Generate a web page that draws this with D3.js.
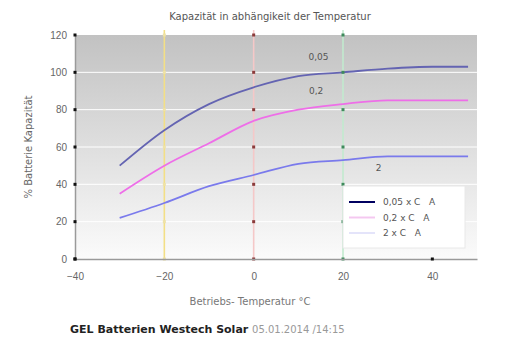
<!DOCTYPE html>
<html>
<head>
<meta charset="utf-8">
<script src="https://cdn.jsdelivr.net/npm/d3@7"></script>
<style>
  body { margin: 0; background: #fff; }
  svg { font-family: "DejaVu Sans", sans-serif; }
</style>
</head>
<body>
<script>
// DATA
let temps = [-30, -20, -10, 0, 10, 20, 30, 40, 48];
let s005 = [50, 69, 83, 92, 98, 100, 102, 103, 103];
let s02 = [35, 50, 62, 74, 80, 83, 85, 85, 85];
let s2 = [22, 30, 39, 45, 51, 53, 55, 55, 55];
let seriesNames = ["0,05 x C   A", "0,2 x C   A", "2 x C   A"];
let pointLabels = ["0,05", "0,2", "2"];
let xTicks = [-40, -20, 0, 20, 40];
let yTicks = [0, 20, 40, 60, 80, 100, 120];
let markLines = [-20, 0, 20];

let width = 516;
let height = 351;
let plotLeft = 75, plotRight = 477, plotTop = 35, plotBottom = 259;

let svg = d3.select("body").append("svg")
    .attr("width", width)
    .attr("height", height);

let x_scale = d3.scaleLinear().domain([-40, 50]).range([plotLeft, plotRight]);
let y_scale = d3.scaleLinear().domain([0, 120]).range([plotBottom, plotTop]);

// background gradient
let defs = svg.append("defs");
let grad = defs.append("linearGradient").attr("id", "bg")
    .attr("x1", 0).attr("y1", 0).attr("x2", 0).attr("y2", 1);
grad.append("stop").attr("offset", "0%").attr("stop-color", "#c2c2c2");
grad.append("stop").attr("offset", "100%").attr("stop-color", "#fbfbfb");

svg.append("rect")
    .attr("x", plotLeft).attr("y", plotTop)
    .attr("width", plotRight - plotLeft).attr("height", plotBottom - plotTop)
    .attr("fill", "url(#bg)");

// horizontal grid
svg.append("g")
    .selectAll("line")
    .data(yTicks.filter(d => d > 0 && d < 120))
    .join("line")
    .attr("x1", plotLeft).attr("x2", plotRight)
    .attr("y1", d => y_scale(d)).attr("y2", d => y_scale(d))
    .attr("stroke", "#ffffff").attr("stroke-width", 1);

// coloured temperature lines
let markColors = { "-20": "#f3df86", "0": "#f5c8c8", "20": "#c2eacf" };
let markDots = { "-20": "#eee2a8", "0": "#8b3b3b", "20": "#3f8a5c" };

svg.append("g")
    .selectAll("line")
    .data(markLines)
    .join("line")
    .attr("x1", d => x_scale(d)).attr("x2", d => x_scale(d))
    .attr("y1", plotTop - 5).attr("y2", plotBottom)
    .attr("stroke", d => markColors[d]).attr("stroke-width", 1.6);

// series
let line = d3.line()
    .x((d, i) => x_scale(temps[i]))
    .y(d => y_scale(d))
    .curve(d3.curveMonotoneX);

let seriesData = [s005, s02, s2];
let seriesColors = ["#6464b2", "#ee6ee8", "#7a7aec"];
let legendColors = ["#000060", "#f4c8f0", "#e4e4fa"];

seriesData.forEach((s, i) => {
    svg.append("path")
        .attr("d", line(s))
        .attr("fill", "none")
        .attr("stroke", seriesColors[i])
        .attr("stroke-width", 1.8);
});

// square markers on the temperature lines
markLines.forEach(m => {
    svg.append("g")
        .selectAll("rect")
        .data(yTicks)
        .join("rect")
        .attr("x", x_scale(m) - 1.5)
        .attr("y", d => y_scale(d) - 1.5)
        .attr("width", 3).attr("height", 3)
        .attr("fill", markDots[m]);
});

// point labels
let labelPos = [[14.5, 106.5], [14, 88.5], [28, 47]];
pointLabels.forEach((t, i) => {
    svg.append("text")
        .attr("x", x_scale(labelPos[i][0]))
        .attr("y", y_scale(labelPos[i][1]))
        .attr("text-anchor", "middle")
        .attr("font-size", 9)
        .attr("fill", "#555")
        .text(t);
});

// axes
let x_axis = d3.axisBottom(x_scale).tickValues(xTicks).tickSize(0).tickPadding(14);
let gx = svg.append("g")
    .attr("transform", "translate(0," + plotBottom + ")")
    .call(x_axis);
gx.select(".domain").attr("stroke", "#9a9a9a").attr("stroke-width", 1.5);
gx.selectAll("text").attr("font-size", 10).attr("fill", "#666");

let y_axis = d3.axisLeft(y_scale).tickValues(yTicks).tickSize(0).tickPadding(8);
let gy = svg.append("g")
    .attr("transform", "translate(" + plotLeft + ",0)")
    .call(y_axis);
gy.select(".domain").attr("stroke", "#9a9a9a").attr("stroke-width", 1.5);
gy.selectAll("text").attr("font-size", 10).attr("fill", "#666");

// tick squares
svg.append("g").selectAll("rect").data(yTicks).join("rect")
    .attr("x", plotLeft - 1.5).attr("y", d => y_scale(d) - 1.5)
    .attr("width", 3).attr("height", 3).attr("fill", "#111");
svg.append("g").selectAll("rect").data([-40, 40]).join("rect")
    .attr("x", d => x_scale(d) - 1.5).attr("y", plotBottom - 1.5)
    .attr("width", 3).attr("height", 3).attr("fill", "#111");

// legend
let lg = svg.append("g").attr("transform", "translate(343,186)");
lg.append("rect")
    .attr("width", 122).attr("height", 62)
    .attr("fill", "#ffffff").attr("stroke", "#e8e8e8");
seriesNames.forEach((n, i) => {
    lg.append("line")
        .attr("x1", 6).attr("x2", 32)
        .attr("y1", 16 + i * 15.5).attr("y2", 16 + i * 15.5)
        .attr("stroke", legendColors[i]).attr("stroke-width", 2);
    lg.append("text")
        .attr("x", 40).attr("y", 19 + i * 15.5)
        .attr("font-size", 9).attr("fill", "#555")
        .attr("xml:space", "preserve")
        .text(n);
});

// titles
svg.append("text")
    .attr("x", 270).attr("y", 20)
    .attr("text-anchor", "middle")
    .attr("font-size", 10).attr("fill", "#555")
    .text("Kapazität in abhängikeit der Temperatur");

svg.append("text")
    .attr("transform", "translate(32," + ((plotTop + plotBottom) / 2) + ") rotate(-90)")
    .attr("text-anchor", "middle")
    .attr("font-size", 10).attr("fill", "#666")
    .text("% Batterie Kapazität");

svg.append("text")
    .attr("x", 250).attr("y", 305)
    .attr("text-anchor", "middle")
    .attr("font-size", 10).attr("fill", "#777")
    .text("Betriebs-  Temperatur °C");

let foot = svg.append("text")
    .attr("x", 70).attr("y", 333)
    .attr("font-size", 11);
foot.append("tspan").attr("font-weight", "bold").attr("fill", "#222")
    .text("GEL  Batterien Westech  Solar ");
foot.append("tspan").attr("fill", "#999").attr("font-size", 10)
    .text("05.01.2014 /14:15");
</script>
</body>
</html>
